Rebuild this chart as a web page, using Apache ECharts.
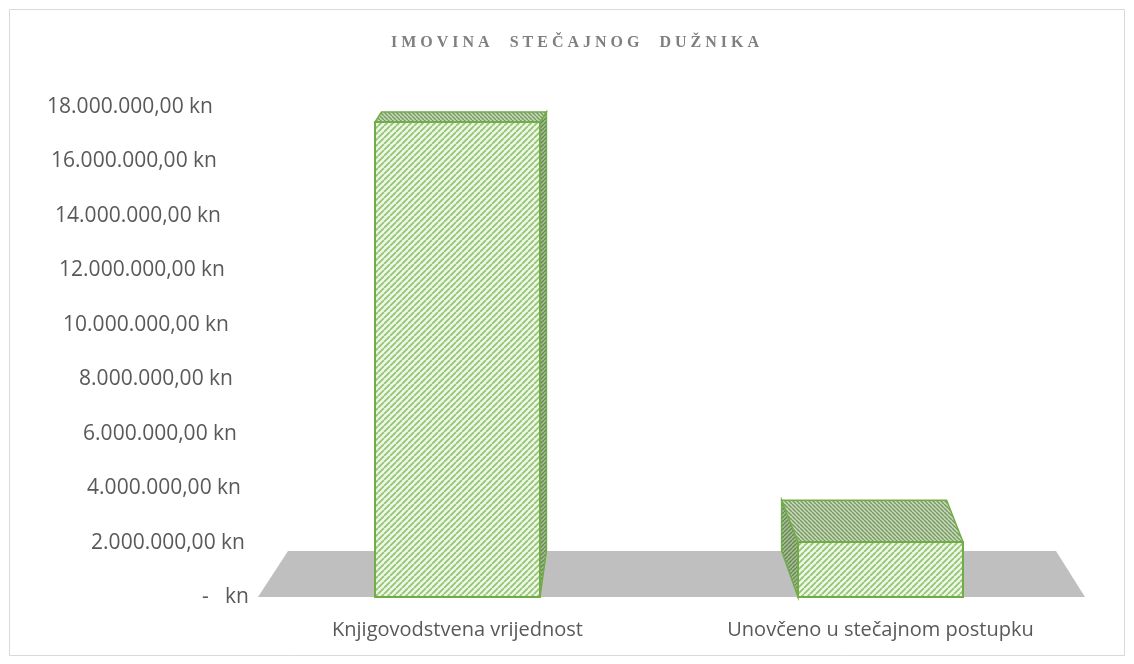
<!DOCTYPE html>
<html>
<head>
<meta charset="utf-8">
<title>Imovina stečajnog dužnika</title>
<script src="https://cdn.jsdelivr.net/npm/echarts@6/dist/echarts.min.js"></script>
<style>
    html, body { margin: 0; padding: 0; background: #fff; }
    #chart { width: 1134px; height: 664px; }
</style>
</head>
<body>
<div id="chart"></div>
<script>
// data
var categories = ['Knjigovodstvena vrijednost', 'Unovčeno u stečajnom postupku'];
var values = [17450000, 2020000];
var yMin = 0, yMax = 18000000, yStep = 2000000;
var titleText = 'IMOVINA STEČAJNOG DUŽNIKA';

// 3d look (pixels)
var DEPTH = 0.076, VP_Y = -9;       // how far the back edge goes up
var SHEAR = 0.054, SHEAR_CX = 577;  // how far the back edge goes sideways
var BAR_RATIO = 0.39;
var LABEL_SLANT = 36;
var EDGE = '#70ad47';
var LABEL_FONT = '"Open Sans", "Noto Sans", sans-serif';

function spaced(s) {
    return s.split(' ').map(function (w) { return w.split('').join(' '); }).join('     ');
}

function fmtKn(v) {
    if (v === 0) return '-   kn';
    var s = Math.round(v).toString().replace(/\B(?=(\d{3})+(?!\d))/g, '.');
    return s + ',00 kn';
}

function makePattern(bg, fg, slash, size, lw) {
    var c = document.createElement('canvas');
    c.width = size; c.height = size;
    var ctx = c.getContext('2d');
    ctx.fillStyle = bg;
    ctx.fillRect(0, 0, size, size);
    ctx.strokeStyle = fg;
    ctx.lineWidth = lw;
    ctx.beginPath();
    for (var k = -size; k <= size; k += size) {
        if (slash) {
            ctx.moveTo(k, size); ctx.lineTo(k + size, 0);
        } else {
            ctx.moveTo(k, 0); ctx.lineTo(k + size, size);
        }
    }
    ctx.stroke();
    return { image: c, repeat: 'repeat' };
}

var frontPat = makePattern('#eef7e7', '#94c572', true, 6, 1.8);
var topPat = makePattern('#c6dab6', '#7a9767', false, 4, 1.4);
var sidePat = makePattern('#a5bf91', '#688657', true, 4, 1.4);

function renderFloor(params, api) {
    var cs = params.coordSys;
    var yF = cs.y + cs.height;
    var l = cs.x + 12, r = cs.x + cs.width - 7;
    var dyF = DEPTH * (yF - VP_Y);
    return {
        type: 'polygon',
        shape: { points: [[l, yF], [r, yF], [r - 29, yF - dyF], [l + 30, yF - dyF]] },
        style: { fill: '#bfbfbf' }
    };
}

function renderBar(params, api) {
    var cat = api.value(0);
    var base = api.coord([cat, 0]);
    var top = api.coord([cat, api.value(1)]);
    var w = api.size([1, 0])[0] * BAR_RATIO;
    var x0 = base[0] - w / 2, x1 = base[0] + w / 2;
    var yT = top[1], yB = base[1];
    var dx = SHEAR * (SHEAR_CX - base[0]);
    var dyT = DEPTH * (yT - VP_Y), dyB = DEPTH * (yB - VP_Y);
    var sx = dx > 0 ? x1 : x0;
    return {
        type: 'group',
        children: [
            {
                type: 'polygon',
                shape: { points: [[sx, yT], [sx + dx, yT - dyT], [sx + dx, yB - dyB], [sx, yB]] },
                style: { fill: sidePat, stroke: EDGE, lineWidth: 1.5 }
            },
            {
                type: 'polygon',
                shape: { points: [[x0, yT], [x1, yT], [x1 + dx, yT - dyT], [x0 + dx, yT - dyT]] },
                style: { fill: topPat, stroke: EDGE, lineWidth: 1.5 }
            },
            {
                type: 'rect',
                shape: { x: x0, y: yT, width: w, height: yB - yT },
                style: { fill: frontPat, stroke: EDGE, lineWidth: 2 }
            }
        ]
    };
}

var rich = {};
for (var v = yMin; v <= yMax; v += yStep) {
    rich['t' + Math.round(v / yStep)] = {
        padding: [0, Math.round(LABEL_SLANT * v / yMax), 0, 0],
        fontSize: 21,
        color: '#595959',
        fontFamily: LABEL_FONT
    };
}

var chart = echarts.init(document.getElementById('chart'));
var option = {
    animation: false,
    backgroundColor: '#fff',
    graphic: [
        {
            type: 'rect',
            shape: { x: 9.5, y: 9.5, width: 1115, height: 646 },
            style: { fill: 'none', stroke: '#d9d9d9', lineWidth: 1 },
            silent: true
        },
        {
            type: 'text',
            x: 575,
            y: 35,
            style: {
                text: spaced(titleText),
                fill: '#7f7f7f',
                font: 'bold 16px "Liberation Serif", "DejaVu Serif", serif',
                align: 'center'
            },
            silent: true
        }
    ],
    grid: {
        left: 246,
        right: 42,
        top: 107,
        bottom: 67
    },
    xAxis: {
        type: 'category',
        data: categories,
        axisLine: { show: false },
        axisTick: { show: false },
        axisLabel: {
            margin: 23,
            fontSize: 20,
            color: '#595959',
            fontFamily: LABEL_FONT
        }
    },
    yAxis: {
        type: 'value',
        min: yMin,
        max: yMax,
        interval: yStep,
        axisLine: { show: false },
        axisTick: { show: false },
        splitLine: { show: false },
        axisLabel: {
            margin: -3,
            fontSize: 21,
            color: '#595959',
            fontFamily: LABEL_FONT,
            formatter: function (v) {
                return '{t' + Math.round(v / yStep) + '|' + fmtKn(v) + '}';
            },
            rich: rich
        }
    },
    series: [
        {
            type: 'custom',
            z: 1,
            renderItem: renderFloor,
            data: [[0, 0]],
            silent: true
        },
        {
            type: 'custom',
            z: 2,
            renderItem: renderBar,
            data: categories.map(function (c, i) { return [i, values[i]]; })
        }
    ]
};
chart.setOption(option);
</script>
</body>
</html>
